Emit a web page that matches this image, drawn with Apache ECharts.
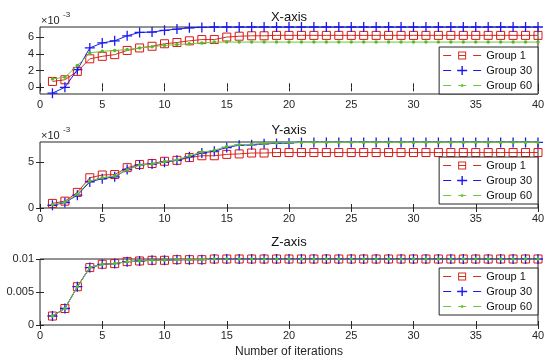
<!DOCTYPE html>
<html>
<head>
<meta charset="utf-8">
<script src="https://cdn.jsdelivr.net/npm/echarts@6/dist/echarts.min.js"></script>
<style>html,body{margin:0;padding:0;background:#fff}#c{width:550px;height:361px}</style>
</head>
<body>
<div id="c"></div>
<script>
// Iterations 1..40
const iterations = [1,2,3,4,5,6,7,8,9,10,11,12,13,14,15,16,17,18,19,20,21,22,23,24,25,26,27,28,29,30,31,32,33,34,35,36,37,38,39,40];
const seriesNames = ['Group 1','Group 30','Group 60'];
const panelTitles = ['X-axis','Y-axis','Z-axis'];
const panel1Ticks = [0,2,4,6];
const panel2Ticks = [0,5];
const panel3Ticks = [0,0.005,0.01];

// X-axis panel (values in ×10^-3)
const xGroup1  = [0.7,0.9,1.9,3.4,3.7,3.9,4.4,4.7,4.9,5.2,5.35,5.55,5.7,5.7,6.0,6.1,6.15,6.15,6.2,6.2,6.2,6.2,6.2,6.2,6.2,6.2,6.2,6.2,6.2,6.2,6.2,6.2,6.2,6.2,6.2,6.2,6.2,6.2,6.2,6.2];
const xGroup30 = [-0.7,0.0,2.1,4.7,5.3,5.55,6.15,6.55,6.6,6.8,6.95,7.1,7.15,7.2,7.2,7.2,7.2,7.2,7.2,7.2,7.2,7.2,7.2,7.2,7.2,7.2,7.2,7.2,7.2,7.2,7.2,7.2,7.2,7.2,7.2,7.2,7.2,7.2,7.2,7.2];
const xGroup60 = [1.0,1.2,2.6,4.1,4.3,4.4,4.5,4.7,4.85,5.0,5.1,5.2,5.3,5.4,5.4,5.4,5.4,5.4,5.4,5.4,5.4,5.4,5.4,5.4,5.4,5.4,5.4,5.4,5.4,5.4,5.4,5.4,5.4,5.4,5.4,5.4,5.4,5.4,5.4,5.4];

// Y-axis panel (values in ×10^-3)
const yGroup1  = [0.5,0.75,1.7,3.3,3.6,3.65,4.4,4.75,4.85,5.1,5.2,5.5,5.7,5.7,5.85,5.9,6.0,6.0,6.05,6.05,6.05,6.05,6.05,6.05,6.05,6.05,6.05,6.05,6.05,6.05,6.05,6.05,6.05,6.05,6.05,6.05,6.05,6.05,6.05,6.05];
const yGroup30 = [0.3,0.6,1.4,2.85,3.2,3.4,4.2,4.7,4.8,5.0,5.2,5.6,6.0,6.2,6.6,6.85,6.9,7.0,7.05,7.1,7.15,7.15,7.15,7.15,7.15,7.15,7.15,7.15,7.15,7.15,7.15,7.15,7.15,7.15,7.15,7.15,7.15,7.15,7.15,7.15];
const yGroup60 = [0.35,0.65,1.5,2.95,3.3,3.5,4.15,4.7,4.8,5.05,5.25,5.7,6.1,6.3,6.7,6.9,6.95,7.05,7.1,7.15,7.15,7.15,7.15,7.15,7.15,7.15,7.15,7.15,7.15,7.15,7.15,7.15,7.15,7.15,7.15,7.15,7.15,7.15,7.15,7.15];

// Z-axis panel
const zGroup1  = [0.00136,0.0025,0.0058,0.0087,0.0092,0.0093,0.0096,0.0097,0.0098,0.0098,0.0099,0.0099,0.0099,0.01,0.01,0.01,0.01,0.01,0.01,0.01,0.01,0.01,0.01,0.01,0.01,0.01,0.01,0.01,0.01,0.01,0.01,0.01,0.01,0.01,0.01,0.01,0.01,0.01,0.01,0.01];
const zGroup30 = [0.00136,0.0025,0.0058,0.0087,0.0092,0.0093,0.0096,0.0097,0.0098,0.0098,0.0099,0.0099,0.0099,0.01,0.01,0.01,0.01,0.01,0.01,0.01,0.01,0.01,0.01,0.01,0.01,0.01,0.01,0.01,0.01,0.01,0.01,0.01,0.01,0.01,0.01,0.01,0.01,0.01,0.01,0.01];
const zGroup60 = [0.00136,0.0025,0.0058,0.0087,0.0092,0.0093,0.0096,0.0097,0.0098,0.0098,0.0099,0.0099,0.0099,0.01,0.01,0.01,0.01,0.01,0.01,0.01,0.01,0.01,0.01,0.01,0.01,0.01,0.01,0.01,0.01,0.01,0.01,0.01,0.01,0.01,0.01,0.01,0.01,0.01,0.01,0.01];

const panelData = [[xGroup1,xGroup30,xGroup60],[yGroup1,yGroup30,yGroup60],[zGroup1,zGroup30,zGroup60]];

const FONT = '"Liberation Sans", Arial, Helvetica, sans-serif';
const AX = '#262626';
const grids = [
  {left:40, right:12, top:27, height:67},
  {left:40, right:12, top:142, height:66},
  {left:40, right:12, top:259, height:66}
];
const yRanges = [
  {min:-0.8, max:7.2, custom: panel1Ticks},
  {min:0, max:7.2, custom: panel2Ticks},
  {min:0, max:0.01, custom: panel3Ticks}
];
const legendTops = [47, 157, 268];

const plusPath = 'path://M-0.13,-1 L0.13,-1 L0.13,-0.13 L1,-0.13 L1,0.13 L0.13,0.13 L0.13,1 L-0.13,1 L-0.13,0.13 L-1,0.13 L-1,-0.13 L-0.13,-0.13 Z';
const styles = {
  'Group 1':  {line:'#cc3322', symbol:'rect', size:8, item:{color:'rgba(255,255,255,0)', borderColor:'#dd1515', borderWidth:1}},
  'Group 30': {line:'#1a1aee', symbol:plusPath, size:10, item:{color:'#1a1aee', borderWidth:0}},
  'Group 60': {line:'#6cc83a', symbol:'circle', size:3.5, item:{color:'#5cb82a', borderWidth:0}}
};
// legend icons (38 x 9 box): dash, marker, dash
const dashes = 'M0,4 L8,4 L8,5 L0,5 Z M30,4 L38,4 L38,5 L30,5 Z ';
const legendIcons = {
  'Group 1': 'path://' + dashes + 'M15,0.5 L23,0.5 L23,8.5 L15,8.5 Z M16,1.5 L16,7.5 L22,7.5 L22,1.5 Z M16,4 L22,4 L22,5 L16,5 Z',
  'Group 30': 'path://' + dashes + 'M18.3,0 L19.7,0 L19.7,3.8 L24,3.8 L24,5.2 L19.7,5.2 L19.7,9 L18.3,9 L18.3,5.2 L14,5.2 L14,3.8 L18.3,3.8 Z',
  'Group 60': 'path://' + dashes + 'M0,0 L0.01,0 L0.01,0.01 Z M38,9 L37.99,9 L37.99,8.99 Z M15,4 L23,4 L23,5 L15,5 Z M19,3 A1.5,1.5 0 1 1 18.99,3 Z'
};
const legendColors = {'Group 1':'#d0301e', 'Group 30':'#1a1aee', 'Group 60':'#6cc83a'};

const xAxes = [], yAxes = [], series = [], legends = [], titles = [];
grids.forEach((g, i) => {
  xAxes.push({
    gridIndex:i, type:'value', min:0, max:40, interval:5, position:'bottom',
    axisLine:{show:false}, splitLine:{show:false},
    axisTick:{inside:true, length:4, lineStyle:{color:AX}},
    axisLabel:{show:true, margin:5, color:AX, fontSize:11, fontFamily:FONT},
    name: i === 2 ? 'Number of iterations' : '', nameLocation:'middle', nameGap:21,
    nameTextStyle:{color:AX, fontSize:12, fontFamily:FONT}
  });
  xAxes.push({
    gridIndex:i, type:'value', min:0, max:40, interval:5, position:'top',
    axisLine:{show:false}, splitLine:{show:false},
    axisTick:{inside:true, length:4, lineStyle:{color:AX}}, axisLabel:{show:false}
  });
  const yr = yRanges[i];
  const yBase = {gridIndex:i, type:'value', min:yr.min, max:yr.max, axisLine:{show:false}, splitLine:{show:false}};
  const tick = {inside:true, length:4, lineStyle:{color:AX}, customValues: yr.custom};
  const lab = {show:true, margin:6, color:AX, fontSize:11, fontFamily:FONT, customValues: yr.custom};
  yAxes.push(Object.assign({}, yBase, {position:'left', axisTick:tick, axisLabel:lab}));
  yAxes.push(Object.assign({}, yBase, {position:'right', axisTick:Object.assign({}, tick), axisLabel:{show:false}}));

  // draw order: green, red, blue
  [2,0,1].forEach(k => {
    const name = seriesNames[k];
    const st = styles[name];
    series.push({
      name, type:'line', xAxisIndex:i*2, yAxisIndex:i*2,
      data: iterations.map((x, j) => [x, panelData[i][k][j]]),
      symbol: st.symbol, symbolSize: st.size, showAllSymbol:true,
      lineStyle:{color:st.line, width:1}, itemStyle:st.item,
      emphasis:{disabled:true}, animation:false, z: 2 + k
    });
  });

  legends.push({
    data: seriesNames.map(n => ({name:n, icon:legendIcons[n], itemStyle:{color:legendColors[n], borderWidth:0}})),
    orient:'vertical', right:12, top:legendTops[i],
    backgroundColor:'#fff', borderColor:AX, borderWidth:1, borderRadius:0,
    padding:[3,6,3,4], itemGap:4, itemWidth:38, itemHeight:9, symbolKeepAspect:true,
    textStyle:{color:'#111', fontSize:11, fontFamily:FONT, padding:[0,0,0,0]},
    selectedMode:false
  });
  titles.push({
    text: panelTitles[i], left: 289, textAlign:'center', top: [11, 124, 236][i],
    padding:0,
    textStyle:{color:'#111', fontSize:13, fontWeight:'normal', fontFamily:FONT}
  });
});

const chart = echarts.init(document.getElementById('c'), null, {renderer:'canvas'});
chart.setOption({
  animation:false,
  backgroundColor:'#fff',
  title: titles,
  grid: grids.map(g => Object.assign({show:true, borderColor:AX, borderWidth:1, backgroundColor:'transparent'}, g)),
  xAxis: xAxes, yAxis: yAxes, series, legend: legends,
  graphic: [
    {type:'text', left:41, top:15, style:{text:'×10', fill:AX, font:'11px ' + FONT}},
    {type:'text', left:63, top:11, style:{text:'-3', fill:AX, font:'8px ' + FONT}},
    {type:'text', left:41, top:130, style:{text:'×10', fill:AX, font:'11px ' + FONT}},
    {type:'text', left:63, top:126, style:{text:'-3', fill:AX, font:'8px ' + FONT}}
  ]
});
</script>
</body>
</html>
